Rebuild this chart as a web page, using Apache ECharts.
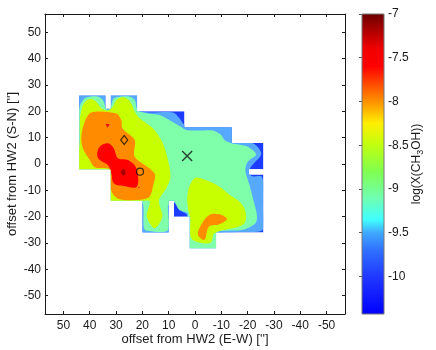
<!DOCTYPE html>
<html><head><meta charset="utf-8">
<style>html,body{margin:0;padding:0;background:#fff}#c{width:436px;height:350px}</style>
<script src="https://cdn.jsdelivr.net/npm/echarts@6/dist/echarts.min.js"></script>
</head><body><div id="c"></div>
<script>
// Offsets in arcseconds, contour regions
const offsetTicks = [-50,-40,-30,-20,-10,0,10,20,30,40,50];
const colorTicks = [-7,-7.5,-8,-8.5,-9,-9.5,-10];
const colorStops = [
  [-7,'#6a0000'],[-7.2,'#b00000'],[-7.4,'#f00000'],[-7.6,'#ff0000'],[-7.8,'#ff4a00'],[-8,'#ff9000'],
  [-8.25,'#ffee00'],[-8.5,'#c0ff10'],[-8.8,'#80ff50'],[-9.1,'#70ffb0'],[-9.35,'#40ffff'],
  [-9.5,'#40a8ff'],[-9.7,'#3070ff'],[-10,'#2038ff'],[-10.43,'#0000ff']
];
const maskEdge = [[44,26],[34,26],[34,21],[32,21],[32,26],[22,26],[22,20],[4,20],[4,14],[-14,14],[-14,8],[-26,8],[-26,-2],[-20.5,-2],[-20.5,-4],[-26,-4],[-26,-26],[-8,-26],[-8,-32],[2,-32],[2,-20],[8,-20],[8,-14],[10,-14],[10,-26],[20,-26],[20,-14],[32,-14],[32,-2],[44,-2]];
const levelLightBlue = [[46,-4],[46,28],[21,28],[21,20.3],[8.4,19.6],[5.9,17.4],[4.2,15],[3,14.6],[-15,15],[-15,9],[-22,7.9],[-24.5,5.6],[-25.1,3.4],[-22.6,0.5],[-21,-1.5],[-21,-3],[-21.5,-4.6],[-25.5,-5],[-25.8,-15],[-25.8,-24.8],[-24,-25.7],[-15,-25.9],[-8.5,-27],[-8.5,-33],[3,-33],[3,-19.5],[6,-17.5],[7.6,-15],[9,-15],[9.5,-27],[21,-27],[21,-15],[33,-15],[33,-3]];
const levelMint = [[45.5,-4],[45,15],[43.6,22.4],[41.9,25],[40,25.6],[36.9,25.6],[35,24.3],[34,21.5],[33.1,20.3],[31.9,22],[30.9,24.9],[28.6,25.6],[24.8,25.6],[22.9,24.3],[21.8,20.5],[18.5,19.3],[13.5,18.6],[9.7,16.7],[5.9,14.4],[3.3,12.9],[-1.7,12.7],[-6.8,12.7],[-9.9,11],[-11.2,9.1],[-13.7,7.9],[-19.4,6.8],[-22.6,4.7],[-23.2,3.4],[-20.7,1.5],[-19.4,-0.4],[-19.2,-2.9],[-20.7,-8],[-22,-13],[-23.5,-19.3],[-23,-22.5],[-18.2,-25],[-8.7,-25.6],[-8.5,-27],[-8.5,-33],[3,-33],[3,-20.5],[2.7,-18.7],[5.9,-17.4],[7.8,-14.3],[9,-14.8],[10.3,-16],[10.3,-25.2],[18.5,-25.3],[19.5,-23.8],[19.8,-15],[22,-15],[33,-15.5],[33,-3]];
const levelYellowWest = [[43.7,-4],[43.7,10],[43.7,17.4],[42.8,21.8],[41.3,24.1],[39.4,24.7],[37.5,23.7],[35.6,21.2],[33.1,20.3],[31.2,21.8],[29.9,24.3],[28,25.3],[25.9,24.9],[24.2,23],[22.9,19.9],[21,17.4],[16,13.6],[12.2,7.9],[9.7,-1],[9.4,-5.4],[10.9,-9.2],[13.7,-13.9],[12.4,-20],[15.4,-24.4],[18.3,-20],[17.2,-14.2],[20,-14],[33,-15],[33,-3]];
const levelYellowEast = [[0.2,-5.4],[2.7,-10.5],[2.7,-16.8],[1.8,-20.6],[1.4,-28.2],[-3,-30.1],[-6.1,-29.7],[-7.4,-26.3],[-18.2,-23.1],[-19.4,-19.3],[-17.5,-14.9],[-13.1,-11.7],[-9.3,-8.6],[-3,-5.7]];
const levelOrangeWest = [[39.4,19.6],[29.9,19.2],[28,16.7],[27.6,13.6],[22.9,9.1],[22.9,2.8],[15.4,-3.5],[16,-8.6],[17.3,-12.4],[21,-13.6],[28.6,-13.4],[31.4,-11.1],[32.4,-7.3],[32.6,-2],[38.1,-1.2],[40,1.5],[42.6,6],[43.2,10.4],[41.9,16.1]];
const levelOrangeEast = [[-5.5,-19.3],[-9.3,-19.1],[-12.1,-20.9],[-9.3,-22.9],[-5.3,-23.8],[-3.6,-28.8],[-1.1,-26.9],[-2.4,-23.1]];
const levelRedMain = [[33.1,7.9],[30.9,6],[29.3,2.2],[25.5,1.5],[22.3,-1.6],[22.1,-8.6],[27.4,-8.3],[30.9,-7.3],[31.8,-3.5],[33.1,-0.4],[36.2,1.5],[37.2,3.4],[36.2,6.6]];
const levelRedPeakN = [[34,15.2],[32.4,15.2],[33.2,13.8]];
const levelRedPeakS = [[21.7,-8.8],[20.8,-8.8],[21.3,-9.3]];
const levelDarkRed = [[27.2,-2],[26.4,-3.1],[27.1,-4.4],[28.1,-3.1]];
const markCircle = [[20.9,-2.9]];
const markDiamond = [[26.9,9.1]];
const markCross = [[3,3]];

const layers = [
  [maskEdge,'#1c3cff',0],[levelLightBlue,'#57a9ff',0.3],[levelMint,'#80ffaa',0.3],
  [levelYellowWest,'#c8ff00',0.3],[levelYellowEast,'#c8ff00',0.35],
  [levelOrangeWest,'#ff8c00',0.3],[levelOrangeEast,'#ff8c00',0.35],
  [levelRedMain,'#ff0000',0.35],[levelRedPeakN,'#f01010',0],[levelRedPeakS,'#f01010',0],[levelDarkRed,'#a00000',0.35]
];
const ink = '#1a1a1a', font = 'Liberation Sans';
const polySeries = layers.map(([pts,fill,smooth]) => ({
  type:'custom', coordinateSystem:'cartesian2d', xAxisIndex:0, yAxisIndex:0, clip:true, silent:true, animation:false,
  data:pts, encode:{x:0,y:1},
  renderItem:(p,api)=> p.dataIndex!==0 ? null : ({type:'polygon',
    shape:{points:pts.map(q=>api.coord(q)),smooth},
    clipPath:{type:'polygon',shape:{points:maskEdge.map(q=>api.coord(q))}},
    style:{fill}})
}));
const markerSeries = (data,symbol,size,w)=>({
  type:'scatter',xAxisIndex:0,yAxisIndex:0,data,symbol,symbolSize:size,silent:true,animation:false,z:5,
  itemStyle:{color:'rgba(0,0,0,0)',borderColor:'#111',borderWidth:w}
});
const barBottom = colorStops[colorStops.length-1][0], barTop = colorStops[0][0];
const colorbar = {
  type:'custom',coordinateSystem:'cartesian2d',xAxisIndex:2,yAxisIndex:2,silent:true,animation:false,clip:false,
  data:[[0,barBottom,barTop]],encode:{y:[1,2]},
  renderItem:(p,api)=>{
    const a=api.coord([0,barTop]), b=api.coord([1,barBottom]);
    return {type:'rect',shape:{x:a[0],y:a[1],width:b[0]-a[0],height:b[1]-a[1]},
      style:{stroke:'#777',lineWidth:1,fill:{type:'linear',x:0,y:0,x2:0,y2:1,
        colorStops:colorStops.map(([v,c])=>({offset:(barTop-v)/(barTop-barBottom),color:c}))}}};
  }
};
const tick = {show:true,inside:true,length:3,lineStyle:{color:ink,width:1},customValues:offsetTicks};
const line = {show:true,onZero:false,lineStyle:{color:ink,width:1}};
const label = {show:true,color:ink,fontFamily:font,fontSize:12,margin:4,customValues:offsetTicks,hideOverlap:false};
const nameTs = {color:ink,fontFamily:font,fontSize:13};
const posAxis = (o)=>Object.assign({type:'value',min:-57,max:57,splitLine:{show:false},axisLine:line,axisTick:tick},o);
const chart = echarts.init(document.getElementById('c'),null,{renderer:'canvas'});
chart.setOption({
  animation:false,backgroundColor:'#fff',
  grid:[{left:45,top:14,width:300,height:300,outerBoundsMode:'none'},{left:362,top:14,width:22,height:300,outerBoundsMode:'none'}],
  xAxis:[
    posAxis({gridIndex:0,position:'bottom',inverse:true,axisLabel:Object.assign({},label,{margin:6}),name:"offset from HW2 (E-W) ['']",nameLocation:'middle',nameGap:19,nameMoveOverlap:false,nameTextStyle:nameTs}),
    posAxis({gridIndex:0,position:'top',inverse:true,axisLabel:{show:false}}),
    {type:'value',gridIndex:1,min:0,max:1,axisLine:{show:false},axisTick:{show:false},axisLabel:{show:false},splitLine:{show:false}}
  ],
  yAxis:[
    posAxis({gridIndex:0,position:'left',axisLabel:label,name:"offset from HW2 (S-N) ['']",nameLocation:'middle',nameGap:26,nameMoveOverlap:false,nameTextStyle:nameTs}),
    posAxis({gridIndex:0,position:'right',axisLabel:{show:false}}),
    {type:'value',gridIndex:1,position:'right',min:barBottom,max:barTop,splitLine:{show:false},
     axisLine:{show:false},axisTick:{show:true,inside:true,length:3,lineStyle:{color:'#555'},customValues:colorTicks},
     axisLabel:{show:true,color:ink,fontFamily:font,fontSize:12,margin:4,customValues:colorTicks,hideOverlap:false},
     name:'{m|log(X(CH}{s|3}{m|OH))}',nameLocation:'middle',nameRotate:90,nameGap:27,nameMoveOverlap:false,
     nameTextStyle:{rich:{m:{fontFamily:font,fontSize:12,color:ink,lineHeight:14,verticalAlign:'top'},
       s:{fontFamily:font,fontSize:9,color:ink,lineHeight:10,verticalAlign:'bottom',padding:[8,0,0,0]}}}}
  ],
  series:[...polySeries,markerSeries(markCircle,'circle',7,1.2),markerSeries(markDiamond,'diamond',[7,9],1.2),
    markerSeries(markCross,'path://M0 0L10 10M10 0L0 10',10,1.4),colorbar]
});
</script></body></html>
